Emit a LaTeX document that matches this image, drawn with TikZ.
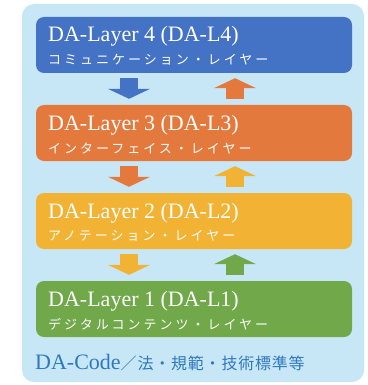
\documentclass[tikz,border=0pt]{standalone}
\usepackage{fontspec}
\setmainfont{Liberation Serif}
\newfontfamily\jpfont[LetterSpace=23]{Noto Sans CJK JP}
\newfontfamily\jpfontb[LetterSpace=5]{Noto Sans CJK JP}
\usetikzlibrary{arrows.meta}
\definecolor{bgblue}{HTML}{C7E7F6}
\definecolor{lblue}{HTML}{4472C4}
\definecolor{lorange}{HTML}{E4793D}
\definecolor{lyellow}{HTML}{F2B233}
\definecolor{lgreen}{HTML}{70A84A}
\definecolor{codeblue}{HTML}{2F78BE}
\tikzset{
  layerbox/.style={rectangle, rounded corners=8pt, minimum width=316pt, minimum height=56pt, inner sep=0pt, fill=#1},
  ltitle/.style={anchor=base west, inner sep=0pt, text=white, font=\fontsize{22}{22}\selectfont},
  lsub/.style={anchor=west, inner sep=0pt, text=white, font=\jpfont\fontsize{13}{13}\selectfont},
  updown/.style={line width=18pt, -{Triangle[width=42pt,length=10pt]}, draw=#1}
}
\begin{document}
\begin{tikzpicture}[x=1pt,y=-1pt]
\useasboundingbox (0,0) rectangle (367,385);
\node[rectangle, rounded corners=12pt, fill=bgblue, minimum width=342pt, minimum height=378pt, inner sep=0pt] (bg) at (193,193) {};
% layers
\node[layerbox=lblue]   (L4) at (194,45) {};
\node[layerbox=lorange] (L3) at (194,133) {};
\node[layerbox=lyellow] (L2) at (194,221) {};
\node[layerbox=lgreen]  (L1) at (194,309) {};
% titles
\node[ltitle] (t4) at (48,42)  {DA-Layer 4 (DA-L4)};
\node[lsub]   (s4) at (48,60)  {コミュニケーション・レイヤー};
\node[ltitle] (t3) at (48,130) {DA-Layer 3 (DA-L3)};
\node[lsub]   (s3) at (48,148) {インターフェイス・レイヤー};
\node[ltitle] (t2) at (48,218) {DA-Layer 2 (DA-L2)};
\node[lsub]   (s2) at (48,236) {アノテーション・レイヤー};
\node[ltitle] (t1) at (48,306) {DA-Layer 1 (DA-L1)};
\node[lsub]   (s1) at (48,324) {デジタルコンテンツ・レイヤー};
% arrows
\draw[updown=lblue]   ([xshift=-65pt,yshift=-5pt]L4.south) -- ([xshift=-65pt,yshift=6pt]L3.north);
\draw[updown=lorange] ([xshift=41pt,yshift=6pt]L3.north) -- ([xshift=41pt,yshift=-5pt]L4.south);
\draw[updown=lorange] ([xshift=-65pt,yshift=-5pt]L3.south) -- ([xshift=-65pt,yshift=6pt]L2.north);
\draw[updown=lyellow] ([xshift=41pt,yshift=6pt]L2.north) -- ([xshift=41pt,yshift=-5pt]L3.south);
\draw[updown=lyellow] ([xshift=-65pt,yshift=-5pt]L2.south) -- ([xshift=-65pt,yshift=6pt]L1.north);
\draw[updown=lgreen]  ([xshift=41pt,yshift=6pt]L1.north) -- ([xshift=41pt,yshift=-5pt]L2.south);
% code line
\node[anchor=base west, inner sep=0pt, text=codeblue, font=\fontsize{22}{22}\selectfont] (code) at (35,369) {DA-Code{\jpfontb\fontsize{16}{16}\selectfont ／法・規範・技術標準等}};
\end{tikzpicture}
\end{document}
